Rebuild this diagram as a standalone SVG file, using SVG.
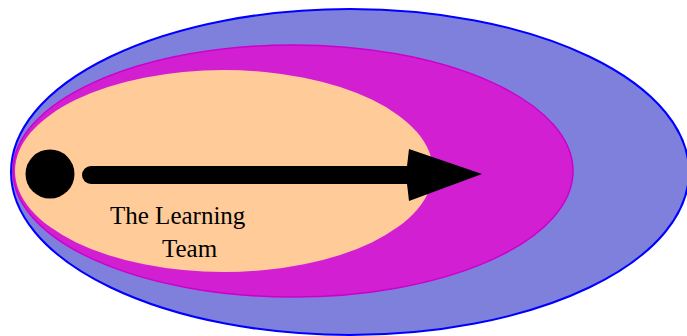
<svg xmlns="http://www.w3.org/2000/svg" width="687" height="336" viewBox="0 0 687 336">
<style>
.lbl{font-family:"Liberation Serif","Times New Roman",serif;font-size:25px;fill:#000}
</style>
<rect width="687" height="336" fill="#fff"/>
<g id="outer"><ellipse cx="350" cy="172" rx="339" ry="163" fill="#7f7fdc" stroke="#0000ff" stroke-width="2"/></g>
<g id="middle"><ellipse cx="293" cy="171" rx="280" ry="126" fill="#d21fd2" stroke="#cc00cc" stroke-width="1.5"/></g>
<g id="inner"><ellipse cx="224" cy="171" rx="209" ry="101" fill="#ffcc99"/></g>
<g id="dot"><circle cx="50" cy="174" r="24.5" fill="#000"/></g>
<g id="connectors">
<line x1="91" y1="175" x2="412" y2="175" stroke="#000" stroke-width="18" stroke-linecap="round"/>
<polygon points="409,149 482,174 409,201 406,175" fill="#000"/>
</g>
<g id="label">
<text class="lbl" x="110" y="224">The Learning</text>
<text class="lbl" x="162" y="257">Team</text>
</g>
</svg>
